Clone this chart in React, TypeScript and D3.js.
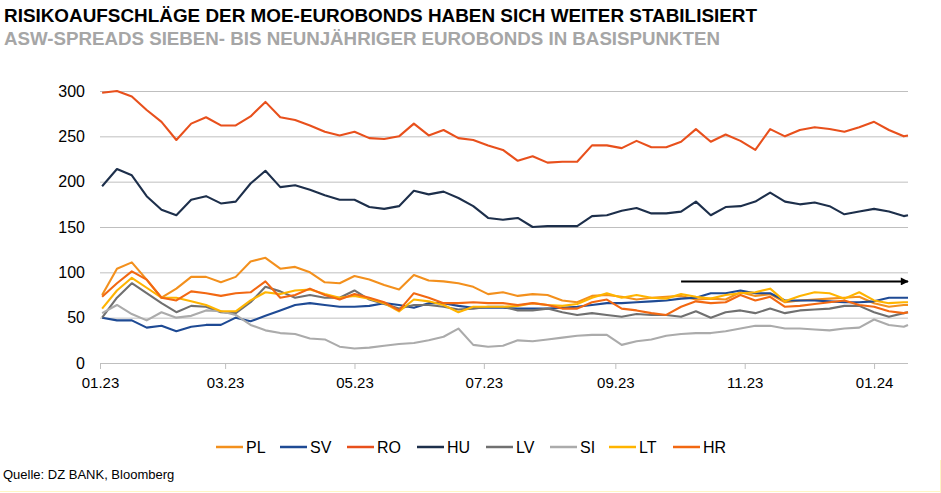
import { useRef, useEffect } from 'react';
import * as d3 from 'd3';

const TITLE = 'RISIKOAUFSCHLÄGE DER MOE-EUROBONDS HABEN SICH WEITER STABILISIERT';
const SUBTITLE = 'ASW-SPREADS SIEBEN- BIS NEUNJÄHRIGER EUROBONDS IN BASISPUNKTEN';
const SOURCE = 'Quelle: DZ BANK, Bloomberg';

// weekly observations from 02.01.2023, last one on 17.01.2024
const FIRST_OBS = new Date(2023, 0, 2);
const LAST_OBS = new Date(2024, 0, 17);
const AXIS_START = new Date(2023, 0, 1);

const Y_TICKS = [0, 50, 100, 150, 200, 250, 300];
const X_TICKS = ['2023-01-01', '2023-03-01', '2023-05-01', '2023-07-01', '2023-09-01', '2023-11-01', '2024-01-01'];

const PL = [75, 104, 111, 92, 72, 82, 95, 95, 89, 95, 112, 116, 104, 106, 100, 89, 88, 96, 92, 86, 81, 97, 91, 90, 88, 84, 76, 78, 74, 76, 75, 69, 67, 74, 75, 73, 70, 72, 73, 74, 70, 71, 70, 78, 74, 76, 67, 69, 70, 71, 72, 73, 66, 62, 64, 64];
const SV = [50, 47, 47, 39, 41, 35, 40, 42, 42, 50, 46, 52, 58, 64, 66, 64, 62, 62, 63, 66, 64, 61, 66, 66, 63, 61, 61, 61, 60, 60, 60, 61, 62, 64, 66, 66, 67, 68, 69, 71, 72, 77, 77, 80, 77, 77, 69, 69, 69, 68, 67, 67, 68, 72, 72, 72];
const RO = [298, 300, 294, 279, 266, 246, 264, 271, 262, 262, 272, 288, 271, 268, 262, 255, 251, 255, 248, 247, 250, 264, 251, 257, 248, 246, 240, 235, 223, 228, 221, 222, 222, 240, 240, 237, 245, 238, 238, 244, 258, 244, 252, 245, 235, 258, 250, 257, 260, 258, 255, 260, 266, 257, 250, 251];
const HU = [195, 214, 207, 184, 169, 163, 180, 184, 176, 178, 198, 212, 194, 196, 191, 185, 180, 180, 172, 170, 173, 190, 186, 189, 182, 173, 160, 158, 160, 150, 151, 151, 151, 162, 163, 168, 171, 165, 165, 167, 178, 163, 172, 173, 178, 188, 178, 175, 177, 173, 164, 167, 170, 167, 162, 163];
const LV = [50, 72, 88, 77, 66, 56, 63, 62, 56, 55, 67, 84, 79, 72, 75, 72, 72, 80, 70, 65, 60, 64, 64, 62, 59, 60, 62, 62, 58, 58, 60, 56, 53, 55, 53, 51, 54, 53, 53, 51, 57, 50, 56, 58, 55, 60, 55, 58, 59, 60, 63, 63, 56, 51, 55, 56];
const SI = [55, 64, 54, 47, 56, 50, 52, 58, 57, 53, 42, 36, 33, 32, 27, 26, 18, 16, 17, 19, 21, 22, 25, 29, 38, 20, 18, 19, 25, 24, 26, 28, 30, 31, 31, 20, 24, 26, 30, 32, 33, 33, 35, 38, 41, 41, 38, 38, 37, 36, 38, 39, 48, 42, 40, 42];
const LT = [60, 80, 94, 83, 72, 72, 68, 64, 57, 57, 69, 78, 76, 80, 81, 76, 72, 74, 71, 66, 57, 70, 68, 64, 56, 62, 62, 62, 63, 66, 64, 63, 65, 72, 77, 72, 75, 72, 71, 76, 73, 71, 75, 77, 78, 82, 68, 74, 78, 77, 71, 78, 69, 66, 67, 67];
const HR = [73, 88, 101, 92, 72, 69, 79, 77, 74, 77, 78, 90, 72, 75, 82, 75, 70, 76, 72, 67, 58, 77, 72, 66, 66, 67, 66, 66, 64, 66, 64, 60, 60, 67, 70, 60, 58, 55, 53, 62, 68, 66, 67, 75, 69, 73, 62, 63, 65, 67, 69, 64, 62, 57, 55, 56];

const SERIES = [
  { name: 'PL', values: PL, color: '#F3901D' },
  { name: 'SV', values: SV, color: '#1E4A94' },
  { name: 'RO', values: RO, color: '#E8501C' },
  { name: 'HU', values: HU, color: '#1D2F4B' },
  { name: 'LV', values: LV, color: '#707070' },
  { name: 'SI', values: SI, color: '#ABABAB' },
  { name: 'LT', values: LT, color: '#FFB400' },
  { name: 'HR', values: HR, color: '#F26812' },
];

// trend arrow: from early October to the end, at about 90 bp
const ARROW = { from: new Date(2023, 9, 2), to: LAST_OBS, value: 90 };

const DATES = PL.map((_, i) => (i === PL.length - 1 ? LAST_OBS : d3.timeDay.offset(FIRST_OBS, 7 * i)));

const W = 941;
const H = 493;
const FONT = '"Liberation Sans", Arial, sans-serif';

export default function App() {
  const svgRef = useRef<SVGSVGElement>(null);

  useEffect(() => {
    if (!svgRef.current) return;
    const svg = d3.select(svgRef.current);
    svg.selectAll('*').remove();

    const plot = { left: 100, right: 908, top: 91, bottom: 363 };

    const x = d3.scaleTime().domain([AXIS_START, LAST_OBS]).range([plot.left, plot.right]);
    const y = d3.scaleLinear().domain([0, 300]).range([plot.bottom, plot.top]);

    svg.append('rect').attr('width', W).attr('height', H).attr('fill', '#fff');

    // frame lines at bottom/right edge
    svg.append('line').attr('x1', 0).attr('x2', W).attr('y1', H - 1.5).attr('y2', H - 1.5)
      .attr('stroke', '#FFF6C4').attr('stroke-width', 1);
    svg.append('line').attr('x1', W - 0.5).attr('x2', W - 0.5).attr('y1', 460).attr('y2', H)
      .attr('stroke', '#FFF6C4').attr('stroke-width', 1);

    // titles
    svg.append('text').attr('x', 4).attr('y', 22)
      .attr('font-family', FONT).attr('font-weight', 700).attr('font-size', 19).attr('fill', '#000')
      .attr('textLength', 753).attr('lengthAdjust', 'spacingAndGlyphs')
      .text(TITLE);
    svg.append('text').attr('x', 4).attr('y', 45)
      .attr('font-family', FONT).attr('font-weight', 700).attr('font-size', 19).attr('fill', '#A6A6A6')
      .attr('textLength', 716).attr('lengthAdjust', 'spacingAndGlyphs')
      .text(SUBTITLE);

    // horizontal grid
    const yAxis = svg.append('g')
      .attr('transform', `translate(${plot.left},0)`)
      .call(d3.axisLeft(y).tickValues(Y_TICKS.slice(1)).tickSize(-(plot.right - plot.left)).tickFormat(() => ''));
    yAxis.select('.domain').remove();
    yAxis.selectAll('line').attr('stroke', '#BFBFBF').attr('stroke-width', 1);

    // y labels
    svg.append('g')
      .selectAll('text')
      .data(Y_TICKS)
      .enter()
      .append('text')
      .attr('x', 85)
      .attr('y', (d) => y(d) + 5.5)
      .attr('text-anchor', 'end')
      .attr('font-family', FONT).attr('font-size', 16).attr('fill', '#000')
      .text((d) => d);

    // x axis
    const xAxis = svg.append('g')
      .attr('transform', `translate(0,${plot.bottom})`)
      .call(
        d3.axisBottom(x)
          .tickValues(X_TICKS.map((s) => d3.timeParse('%Y-%m-%d')(s)!))
          .tickSize(6)
          .tickPadding(8)
          .tickFormat((d) => d3.timeFormat('%m.%y')(d as Date))
      );
    xAxis.select('.domain').attr('stroke', '#BFBFBF').attr('d', `M${plot.left},0.5H${plot.right}`);
    xAxis.selectAll('line').attr('stroke', '#BFBFBF');
    xAxis.selectAll('text').attr('font-family', FONT).attr('font-size', 15).attr('fill', '#000');

    // series
    const line = d3.line<number>()
      .x((_, i) => x(DATES[i]))
      .y((d) => y(d));

    SERIES.forEach((s) => {
      svg.append('path')
        .attr('d', line(s.values)!)
        .attr('fill', 'none')
        .attr('stroke', s.color)
        .attr('stroke-width', 2.1)
        .attr('stroke-linejoin', 'round');
    });

    // trend arrow
    const defs = svg.append('defs');
    defs.append('marker')
      .attr('id', 'arrowhead')
      .attr('viewBox', '0 0 10 10')
      .attr('refX', 9).attr('refY', 5)
      .attr('markerWidth', 4.5).attr('markerHeight', 4)
      .attr('orient', 'auto')
      .append('path').attr('d', 'M0,0L10,5L0,10z').attr('fill', '#000');
    svg.append('line')
      .attr('x1', x(ARROW.from)).attr('x2', x(ARROW.to))
      .attr('y1', y(ARROW.value)).attr('y2', y(ARROW.value))
      .attr('stroke', '#000').attr('stroke-width', 2)
      .attr('marker-end', 'url(#arrowhead)');

    // legend
    const legendX = [216, 280, 347, 417, 486, 550, 609, 673];
    const lg = svg.append('g');
    SERIES.forEach((s, i) => {
      const g = lg.append('g').attr('transform', `translate(${legendX[i]},447)`);
      g.append('line').attr('x1', 0).attr('x2', 27).attr('y1', 0).attr('y2', 0)
        .attr('stroke', s.color).attr('stroke-width', 2.5);
      g.append('text').attr('x', 30).attr('y', 5.5)
        .attr('font-family', FONT).attr('font-size', 16).attr('fill', '#000')
        .text(s.name);
    });

    // source
    svg.append('text').attr('x', 3).attr('y', 479)
      .attr('font-family', FONT).attr('font-size', 13).attr('fill', '#000')
      .text(SOURCE);
  }, []);

  return (
    <svg
      ref={svgRef}
      width={W}
      height={H}
      style={{ position: 'absolute', left: 0, top: 0, display: 'block' }}
    />
  );
}
